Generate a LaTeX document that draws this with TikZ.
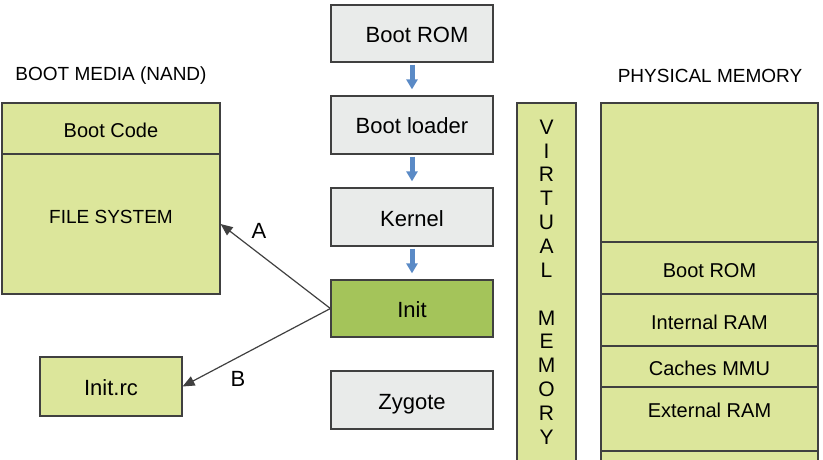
\documentclass[tikz,border=0pt]{standalone}
\usepackage{fontspec}
\setmainfont{Liberation Sans}
\usetikzlibrary{arrows.meta}
\definecolor{media}{RGB}{220, 230, 155}
\definecolor{initc}{RGB}{164, 196, 90}
\definecolor{stage}{RGB}{233, 235, 234}
\definecolor{flow}{RGB}{90, 138, 198}
\definecolor{edge}{RGB}{64, 64, 64}

\begin{document}
\begin{tikzpicture}[x=1pt, y=-1pt, % coordenadas em pixels
	box/.style={draw=edge, line width=1.2pt, inner sep=0pt,
		text height=18pt, text depth=0pt}, % caixa base
	stagebox/.style={box, fill=stage, minimum width=162, minimum height=58,
		font=\fontsize{22}{26}\selectfont}, % etapas do boot
	mediabox/.style={box, fill=media, font=\fontsize{20}{24}\selectfont},
	caps/.style={inner sep=0pt, font=\fontsize{19}{23}\selectfont}, % titulos
	small/.style={inner sep=0pt, font=\fontsize{20}{24}\selectfont},
	flowarrow/.style={draw=flow, line width=5pt,
		-{Triangle[length=10pt, width=11pt]}}, % setas azuis
	link/.style={draw=edge, line width=1.2pt,
		-{Triangle[length=12pt, width=10pt]}},
	]
\clip (0,0) rectangle (823,460); % margens da figura

% etapas do boot
\node[stagebox, minimum height=57] (rom) at (412,33.5) {\hspace{10pt}Boot ROM};
\node[stagebox] (loader) at (412,125) {Boot loader};
\node[stagebox] (kernel) at (412,217) {Kernel};
\node[stagebox, fill=initc, minimum height=57] (init) at (412,308.5) {Init};
\node[stagebox] (zygote) at (412,400) {Zygote};
\foreach \a/\b in {rom/loader, loader/kernel, kernel/init}
	\draw[flowarrow] ([yshift=-2pt]\a.south) -- ([yshift=6pt]\b.north);

% boot media
\node[caps] (bmtitle) at (111,76) {BOOT MEDIA (NAND)};
\node[mediabox, minimum width=218, minimum height=51] (bootcode) at (111,128.5) {Boot Code};
\node[mediabox, minimum width=218, minimum height=140] (fs) at (111,224) {};
\node[caps] (fstext) at (111,217) {FILE SYSTEM};
\node[mediabox, minimum width=142, minimum height=59,
	font=\fontsize{22}{26}\selectfont] (initrc) at (111,386.5) {Init.rc};

% relacoes
\draw[link] (init.west) -- (fs.east);
\draw[link] (init.west) -- (initrc.east);
\node[font=\fontsize{22}{26}\selectfont, inner sep=0pt] (lblA) at (259,231) {A};
\node[font=\fontsize{22}{26}\selectfont, inner sep=0pt] (lblB) at (238,379) {B};

% memoria virtual
\node[mediabox, minimum width=59, minimum height=367] (vm) at (546.5,286.5) {};
\node[inner sep=0pt, align=center, font=\fontsize{21}{23.85}\selectfont] (vmtext) at (546.5,282)
	{V\\I\\R\\T\\U\\A\\L\\\mbox{}\\M\\E\\M\\O\\R\\Y};

% memoria fisica
\node[caps] (pmtitle) at (710,76) {PHYSICAL MEMORY};
\node[mediabox, minimum width=217, minimum height=139] (pmtop) at (709.5,172.5) {};
\node[mediabox, minimum width=217, minimum height=52] (pmrom) at (709.5,268) {Boot ROM};
\node[mediabox, minimum width=217, minimum height=52] (pmint) at (709.5,320) {Internal RAM};
\node[mediabox, minimum width=217, minimum height=41] (pmcache) at (709.5,366.5) {Caches MMU};
\node[mediabox, minimum width=217, minimum height=64] (pmext) at (709.5,419) {};
\node[small] (extext) at (709.5,410) {External RAM};
\node[mediabox, minimum width=217, minimum height=30] (pmlast) at (709.5,466) {};
\end{tikzpicture}
\end{document}
